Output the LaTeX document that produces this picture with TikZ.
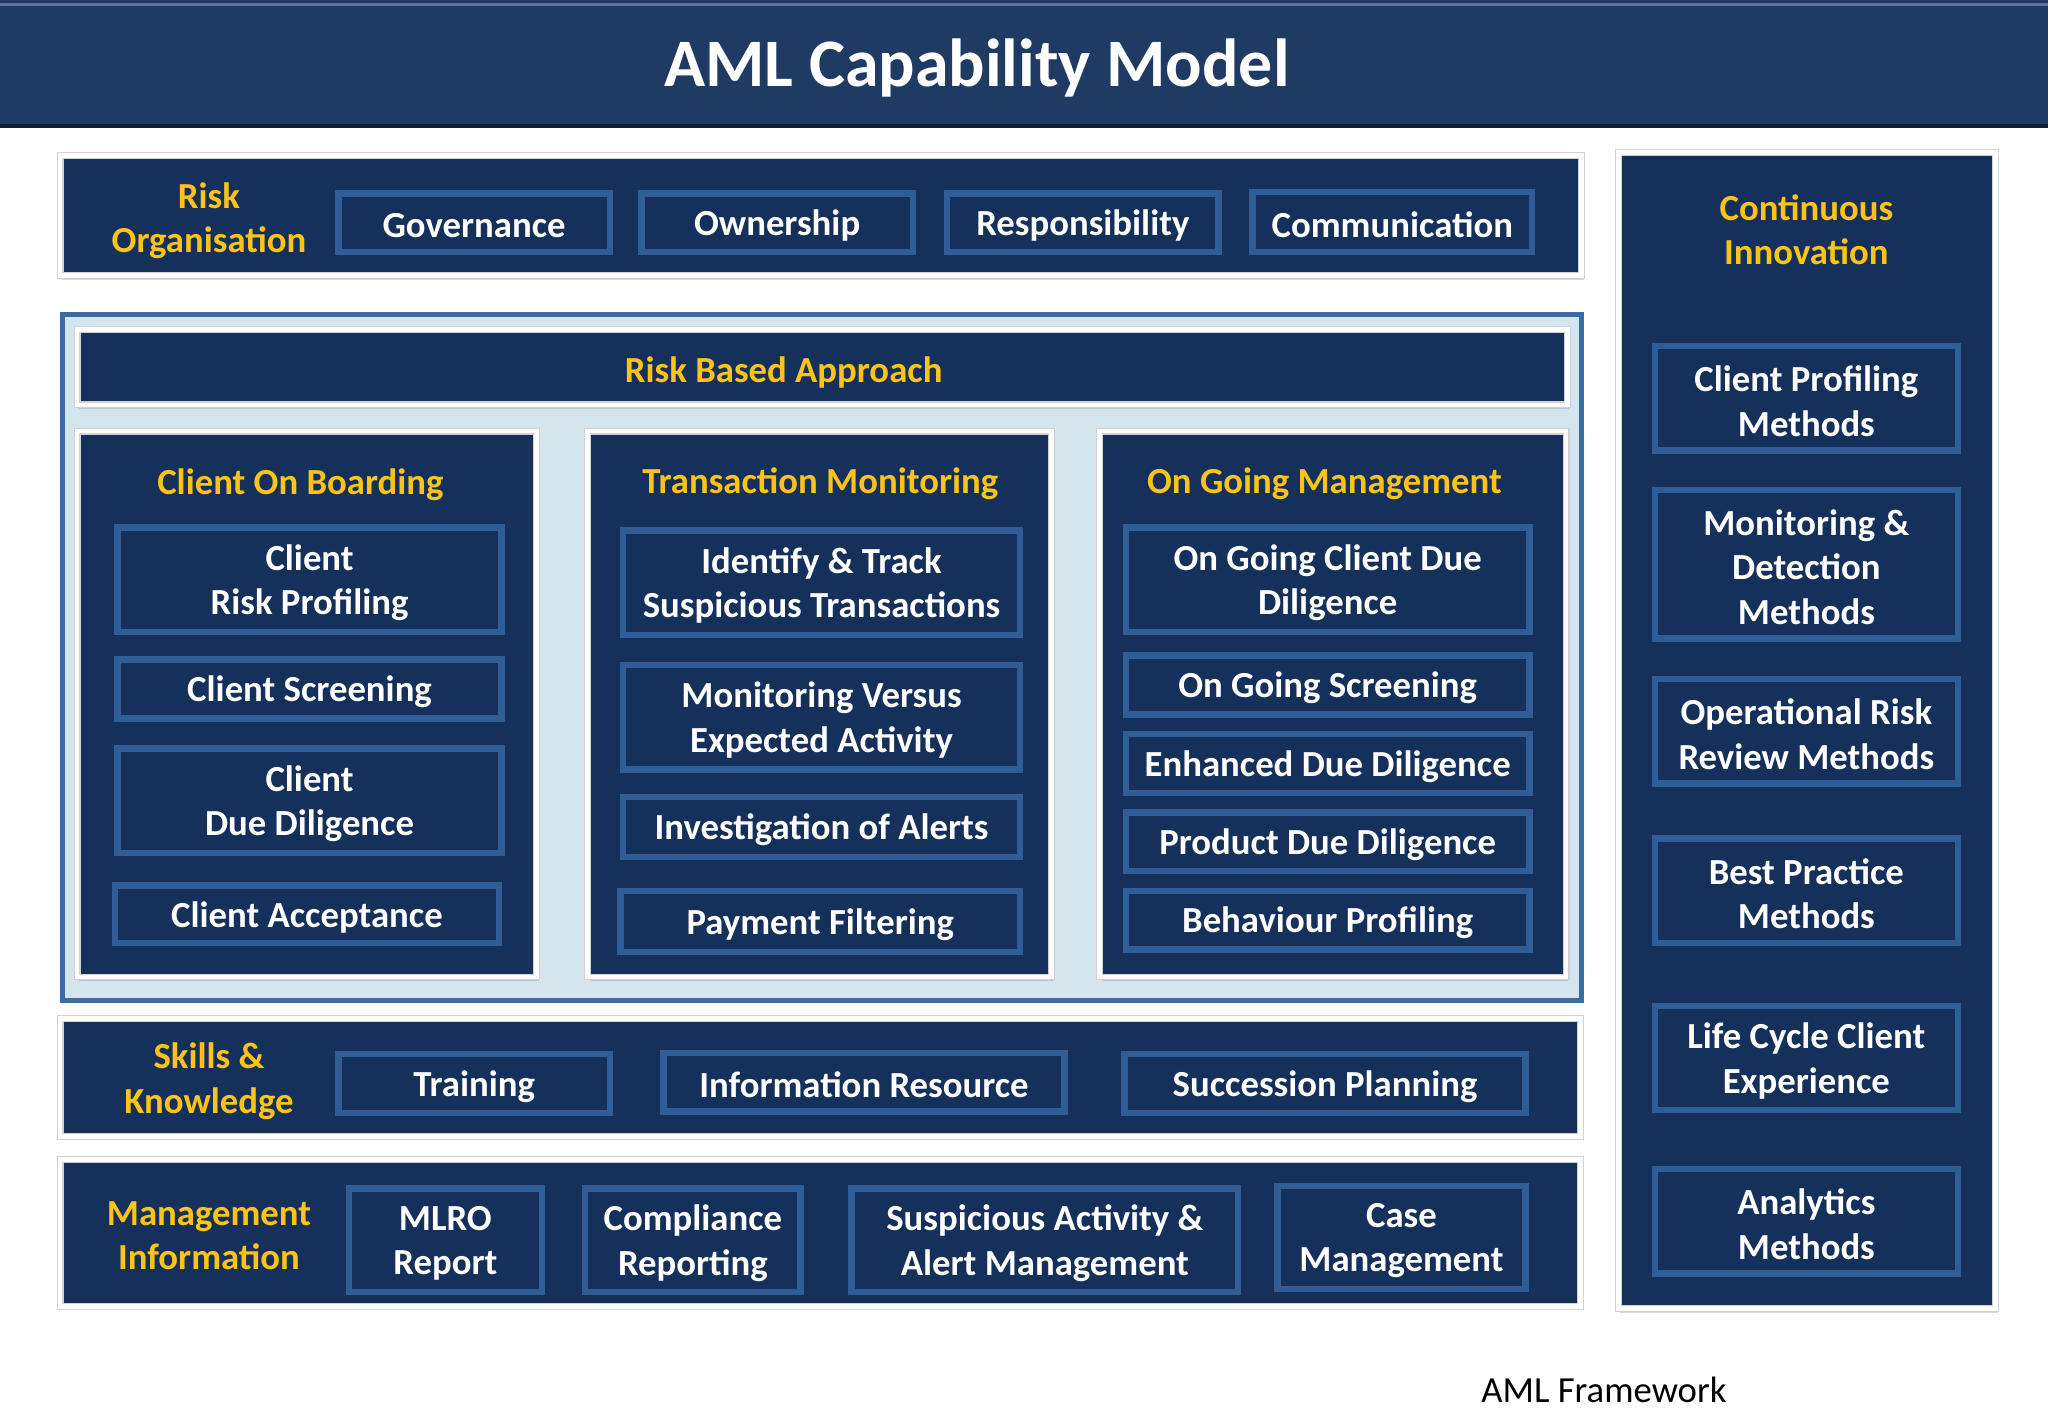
\documentclass[tikz,border=0pt]{standalone}
\usepackage{fontspec}
\setmainfont{Carlito}
\usetikzlibrary{fit, shadows}

\definecolor{navy}{HTML}{1F3B63}
\definecolor{panelblue}{HTML}{15305A}
\definecolor{edgeblue}{HTML}{2F5D95}
\definecolor{paleblue}{HTML}{D5E5ED}
\definecolor{frameblue}{HTML}{3A6BA3}
\definecolor{gold}{HTML}{FDC318}

\begin{document}
\begin{tikzpicture}[x=0.025cm, y=-0.025cm,
    panel/.style={draw=black!18, double=white, double distance=2.6pt, line width=0.6pt,
        fill=panelblue, inner sep=0pt,
        drop shadow={opacity=0.3, shadow xshift=1pt, shadow yshift=-2.2pt}},
    cell/.style={draw=edgeblue, line width=3.5pt, fill=panelblue, inner sep=0pt,
        drop shadow={opacity=0.35, shadow xshift=1.2pt, shadow yshift=-1.5pt},
        label={[celltext]center:#1}},
    celltext/.style={text=white, align=center, yshift=-1.6pt,
        font=\bfseries\fontsize{20}{24.2}\selectfont},
    heading/.style={text=gold, align=center, yshift=-1.4pt,
        font=\bfseries\fontsize{20}{24.2}\selectfont}]

    \useasboundingbox (0,0) rectangle (1568,1086);

    % title bar
    \node[fill=navy, inner sep=0pt, fit={(0,0) (1568,96)}] (titlebar) {};
    \draw[line width=2pt, navy!55!black] (titlebar.south west) -- (titlebar.south east);
    \draw[line width=1.5pt, navy!70!white] (titlebar.north west) ++(0,4) -- ++(1568,0);
    \node[text=white, font=\bfseries\fontsize{37}{44}\selectfont] (title) at (748,52) {AML Capability Model};

    % risk organisation
    \node[panel, fit={(46,119) (1211,211)}] (orgrow) {};
    \node[heading] (orglabel) at (160,167) {Risk\\Organisation};
    \node[cell={Governance}, fit={(259,148) (467,193)}] (gov) {};
    \node[cell={Ownership}, fit={(491,148) (699,193)}] (own) {};
    \node[cell={Responsibility}, fit={(725,148) (933,193)}] (resp) {};
    \node[cell={Communication}, fit={(959,147) (1173,193)}] (comm) {};

    % risk based approach
    \node[draw=frameblue, line width=2.5pt, fill=paleblue, inner sep=0pt,
        fit={(48,241) (1211,766)}] (rba) {};
    \node[panel, fit={(59,252) (1200,310)}] (rbabar) {};
    \node[heading] (rbahead) at (600,283) {Risk Based Approach};

    \node[panel, fit={(59,330) (411,748)}] (cob) {};
    \node[heading] (cobhead) at (230,369) {Client On Boarding};
    \node[cell={Client\\Risk Profiling}, fit={(90,404) (384,484)}] (crp) {};
    \node[cell={Client Screening}, fit={(90,505) (384,550)}] (cscr) {};
    \node[cell={Client\\Due Diligence}, fit={(90,573) (384,653)}] (cdd) {};
    \node[cell={Client Acceptance}, fit={(88,678) (382,722)}] (cacc) {};

    \node[panel, fit={(450,330) (805,748)}] (tm) {};
    \node[heading] (tmhead) at (628,368) {Transaction Monitoring};
    \node[cell={Identify \& Track\\Suspicious Transactions}, fit={(477,406) (781,486)}] (itst) {};
    \node[cell={Monitoring Versus\\Expected Activity}, fit={(477,509) (781,589)}] (mvea) {};
    \node[cell={Investigation of Alerts}, fit={(477,610) (781,656)}] (ioa) {};
    \node[cell={Payment Filtering}, fit={(475,682) (781,729)}] (pf) {};

    \node[panel, fit={(842,330) (1199,748)}] (ogm) {};
    \node[heading] (ogmhead) at (1014,368) {On Going Management};
    \node[cell={On Going Client Due\\Diligence}, fit={(862,404) (1171,484)}] (ogcdd) {};
    \node[cell={On Going Screening}, fit={(862,502) (1171,547)}] (ogs) {};
    \node[cell={Enhanced Due Diligence}, fit={(862,562) (1171,607)}] (edd) {};
    \node[cell={Product Due Diligence}, fit={(862,622) (1171,667)}] (pdd) {};
    \node[cell={Behaviour Profiling}, fit={(862,682) (1171,727)}] (bp) {};

    % skills and knowledge
    \node[panel, fit={(46,780) (1210,870)}] (skrow) {};
    \node[heading] (sklabel) at (160,826) {Skills \&\\Knowledge};
    \node[cell={Training}, fit={(259,807) (467,852)}] (train) {};
    \node[cell={Information Resource}, fit={(508,806) (815,851)}] (inres) {};
    \node[cell={Succession Planning}, fit={(861,807) (1168,852)}] (succ) {};

    % management information
    \node[panel, fit={(46,888) (1210,1000)}] (mirow) {};
    \node[heading] (milabel) at (160,944) {Management\\Information};
    \node[cell={MLRO\\Report}, fit={(267,910) (415,989)}] (mlro) {};
    \node[cell={Compliance\\Reporting}, fit={(448,910) (613,989)}] (comp) {};
    \node[cell={Suspicious Activity \&\\Alert Management}, fit={(652,910) (948,989)}] (saam) {};
    \node[cell={Case\\Management}, fit={(978,908) (1168,987)}] (case) {};

    % continuous innovation
    \node[panel, fit={(1239,117) (1528,1002)}] (ci) {};
    \node[heading] (cihead) at (1383,174) {Continuous\\Innovation};
    \node[cell={Client Profiling\\Methods}, fit={(1267,265) (1499,345)}] (cpm) {};
    \node[cell={Monitoring \&\\Detection\\Methods}, fit={(1267,375) (1499,489)}] (mdm) {};
    \node[cell={Operational Risk\\Review Methods}, fit={(1267,520) (1499,600)}] (orrm) {};
    \node[cell={Best Practice\\Methods}, fit={(1267,642) (1499,722)}] (bpm) {};
    \node[cell={Life Cycle Client\\Experience}, fit={(1267,770) (1499,850)}] (lcce) {};
    \node[cell={Analytics\\Methods}, fit={(1267,895) (1499,975)}] (am) {};

    \node[font=\fontsize{20}{24}\selectfont] (caption) at (1228,1064) {AML Framework};
\end{tikzpicture}
\end{document}
